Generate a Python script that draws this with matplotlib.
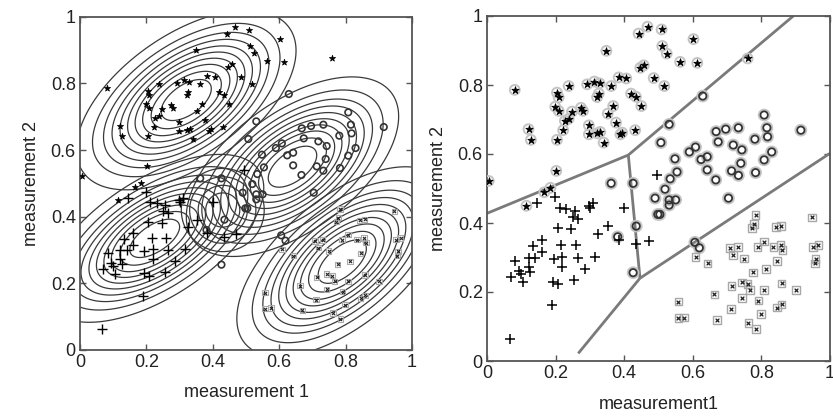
import numpy as np
import matplotlib
matplotlib.use("Agg")
import matplotlib.pyplot as plt

plt.rcParams['font.family'] = ['Liberation Sans', 'DejaVu Sans']

# ---------------- data ----------------
star_x = [0.081, 0.204, 0.209, 0.238, 0.292, 0.313, 0.328, 0.326, 0.321, 0.362, 0.384, 0.406,
          0.348, 0.442, 0.468, 0.509, 0.511, 0.524, 0.602, 0.563, 0.613, 0.517, 0.760, 0.447,
          0.457, 0.486, 0.420, 0.434, 0.450, 0.368, 0.352, 0.376, 0.199, 0.209, 0.248, 0.274,
          0.280, 0.238, 0.227, 0.222, 0.121, 0.128, 0.204, 0.297, 0.297, 0.321, 0.330, 0.340,
          0.389, 0.394, 0.432, 0.202, 0.005, 0.167, 0.185, 0.115]
star_y = [0.786, 0.778, 0.764, 0.797, 0.802, 0.810, 0.805, 0.775, 0.765, 0.797, 0.822, 0.819,
          0.899, 0.949, 0.969, 0.961, 0.913, 0.891, 0.933, 0.867, 0.864, 0.797, 0.877, 0.850,
          0.857, 0.820, 0.775, 0.766, 0.739, 0.739, 0.717, 0.691, 0.737, 0.725, 0.723, 0.734,
          0.725, 0.702, 0.696, 0.669, 0.672, 0.641, 0.641, 0.683, 0.657, 0.660, 0.664, 0.633,
          0.657, 0.662, 0.669, 0.551, 0.522, 0.489, 0.502, 0.450]

circ_x = [0.629, 0.531, 0.507, 0.808, 0.816, 0.668, 0.696, 0.733, 0.674, 0.718, 0.743, 0.781,
          0.818, 0.915, 0.830, 0.608, 0.590, 0.548, 0.624, 0.642, 0.642, 0.740, 0.808, 0.713,
          0.733, 0.783, 0.554, 0.534, 0.667, 0.519, 0.362, 0.426, 0.490, 0.531, 0.550, 0.531,
          0.498, 0.504, 0.704, 0.606, 0.619, 0.381, 0.435, 0.426]
circ_y = [0.768, 0.686, 0.633, 0.713, 0.676, 0.665, 0.672, 0.676, 0.635, 0.626, 0.612, 0.643,
          0.650, 0.669, 0.606, 0.620, 0.606, 0.586, 0.584, 0.592, 0.554, 0.573, 0.583, 0.551,
          0.538, 0.546, 0.548, 0.528, 0.525, 0.498, 0.515, 0.515, 0.472, 0.467, 0.467, 0.452,
          0.425, 0.425, 0.472, 0.344, 0.328, 0.360, 0.391, 0.256]

plus_x = [0.495, 0.146, 0.199, 0.212, 0.231, 0.257, 0.251, 0.264, 0.297, 0.309, 0.301, 0.400,
          0.206, 0.246, 0.352, 0.324, 0.384, 0.435, 0.471, 0.160, 0.133, 0.216, 0.260, 0.160,
          0.121, 0.141, 0.083, 0.194, 0.219, 0.265, 0.316, 0.121, 0.092, 0.099, 0.126, 0.219,
          0.285, 0.070, 0.105, 0.192, 0.207, 0.255, 0.190, 0.066]
plus_y = [0.539, 0.457, 0.474, 0.444, 0.440, 0.435, 0.417, 0.412, 0.450, 0.457, 0.443, 0.443,
          0.385, 0.382, 0.391, 0.368, 0.351, 0.339, 0.349, 0.351, 0.333, 0.336, 0.336, 0.315,
          0.300, 0.300, 0.290, 0.296, 0.302, 0.300, 0.302, 0.273, 0.261, 0.251, 0.257, 0.272,
          0.267, 0.244, 0.228, 0.230, 0.222, 0.235, 0.162, 0.064]

cross_x = [0.783, 0.778, 0.772, 0.842, 0.857, 0.947, 0.708, 0.731, 0.718, 0.749, 0.789, 0.808,
           0.835, 0.856, 0.861, 0.951, 0.966, 0.958, 0.956, 0.608, 0.643, 0.845, 0.813, 0.776,
           0.713, 0.743, 0.760, 0.767, 0.808, 0.859, 0.900, 0.663, 0.743, 0.791, 0.558, 0.711,
           0.845, 0.859, 0.798, 0.558, 0.575, 0.670, 0.762, 0.784]
cross_y = [0.423, 0.397, 0.385, 0.389, 0.392, 0.416, 0.327, 0.330, 0.307, 0.297, 0.331, 0.346,
           0.331, 0.336, 0.322, 0.331, 0.336, 0.296, 0.283, 0.302, 0.283, 0.290, 0.266, 0.257,
           0.218, 0.228, 0.223, 0.206, 0.206, 0.225, 0.206, 0.193, 0.182, 0.175, 0.172, 0.151,
           0.155, 0.164, 0.136, 0.124, 0.126, 0.119, 0.111, 0.093]

# Gaussian components of the left panel (means, std devs, correlation)
comp_mx = [0.32, 0.64, 0.225, 0.79, 0.43]
comp_my = [0.75, 0.55, 0.335, 0.265, 0.42]
comp_sx = [0.151, 0.146, 0.150, 0.145, 0.057]
comp_sy = [0.123, 0.123, 0.115, 0.130, 0.057]
comp_rho = [0.55, 0.56, 0.60, 0.60, 0.0]
main_levels = [0.5, 0.7, 0.87, 1.02, 1.17, 1.32, 1.48, 1.65, 1.87, 2.19]
round_levels = [0.9, 1.3, 1.75, 2.19]

# decision boundaries of the right panel (polyline vertices)
bound1_x = [0.0, 0.412, 0.893]
bound1_y = [0.428, 0.597, 1.0]
bound2_x = [0.412, 0.446]
bound2_y = [0.597, 0.240]
bound3_x = [0.266, 0.446, 1.0]
bound3_y = [0.022, 0.240, 0.602]

ticks = [0, 0.2, 0.4, 0.6, 0.8, 1]
tick_labels = ['0', '0.2', '0.4', '0.6', '0.8', '1']

# ---------------- figure ----------------
fig = plt.figure(figsize=(8.33, 4.18), dpi=100)
axL = fig.add_axes([80 / 833, 1 - 350 / 418, 332 / 833, 333.3 / 418])
axR = fig.add_axes([487 / 833, 1 - 361 / 418, 343 / 833, 345 / 418])

txtc = '#222222'
for ax in (axL, axR):
    ax.set_xlim(0, 1)
    ax.set_ylim(0, 1)
    ax.set_xticks(ticks)
    ax.set_yticks(ticks)
    ax.set_xticklabels(tick_labels)
    ax.set_yticklabels(tick_labels)
    ax.tick_params(direction='in', length=4, width=1, top=True, right=True,
                   labelsize=13, colors='#555555', labelcolor=txtc, pad=3)
    for s in ax.spines.values():
        s.set_color('#555555')
        s.set_linewidth(1.3)

# ---- left panel: contours ----
g = np.linspace(-0.2, 1.2, 500)
GX, GY = np.meshgrid(g, g)
for i in range(len(comp_mx)):
    dx = (GX - comp_mx[i]) / comp_sx[i]
    dy = (GY - comp_my[i]) / comp_sy[i]
    r = comp_rho[i]
    d = np.sqrt((dx ** 2 - 2 * r * dx * dy + dy ** 2) / (1 - r ** 2))
    lev = round_levels if i == 4 else main_levels
    axL.contour(GX, GY, d, levels=lev, colors='#3a3a3a', linewidths=0.9)

axL.scatter(star_x, star_y, marker='*', s=22, color='black', linewidths=0.5, zorder=5)
axL.scatter(circ_x, circ_y, marker='o', s=22, facecolors='none', edgecolors='#333333',
            linewidths=1.2, zorder=5)
axL.scatter(plus_x, plus_y, marker='+', s=45, color='black', linewidths=1.0, zorder=5)
axL.scatter(cross_x, cross_y, marker='s', s=16, facecolors='none', edgecolors='#aaaaaa',
            linewidths=0.8, zorder=5)
axL.scatter(cross_x, cross_y, marker='x', s=5, color='#222222', linewidths=0.8, zorder=6)

axL.set_xlabel('measurement 1', fontsize=13, color=txtc, labelpad=9)
axL.set_ylabel('measurement 2', fontsize=13, color=txtc, labelpad=8)

# ---- right panel: decision boundaries ----
for bx, by in ((bound1_x, bound1_y), (bound2_x, bound2_y), (bound3_x, bound3_y)):
    axR.plot(bx, by, color='#7a7a7a', linewidth=2.0, solid_capstyle='butt', zorder=2)

axR.scatter(star_x, star_y, marker='o', s=50, facecolors='none', edgecolors='#c4c4c4',
            linewidths=1.4, zorder=4)
axR.scatter(star_x, star_y, marker='*', s=30, color='black', linewidths=0.6, zorder=5)
axR.scatter(circ_x, circ_y, marker='o', s=60, facecolors='none', edgecolors='#c4c4c4',
            linewidths=1.4, zorder=4)
axR.scatter(circ_x, circ_y, marker='o', s=28, facecolors='none', edgecolors='#333333',
            linewidths=1.3, zorder=5)
axR.scatter(plus_x, plus_y, marker='+', s=60, color='black', linewidths=1.1, zorder=5)
axR.scatter(cross_x, cross_y, marker='s', s=30, facecolors='none', edgecolors='#a8a8a8',
            linewidths=1.0, zorder=4)
axR.scatter(cross_x, cross_y, marker='x', s=7, color='#222222', linewidths=0.9, zorder=5)

axR.set_xlabel('measurement1', fontsize=13, color=txtc, labelpad=10)
axR.set_ylabel('measurement 2', fontsize=13, color=txtc, labelpad=8)

fig.savefig('out.png', dpi=100)
